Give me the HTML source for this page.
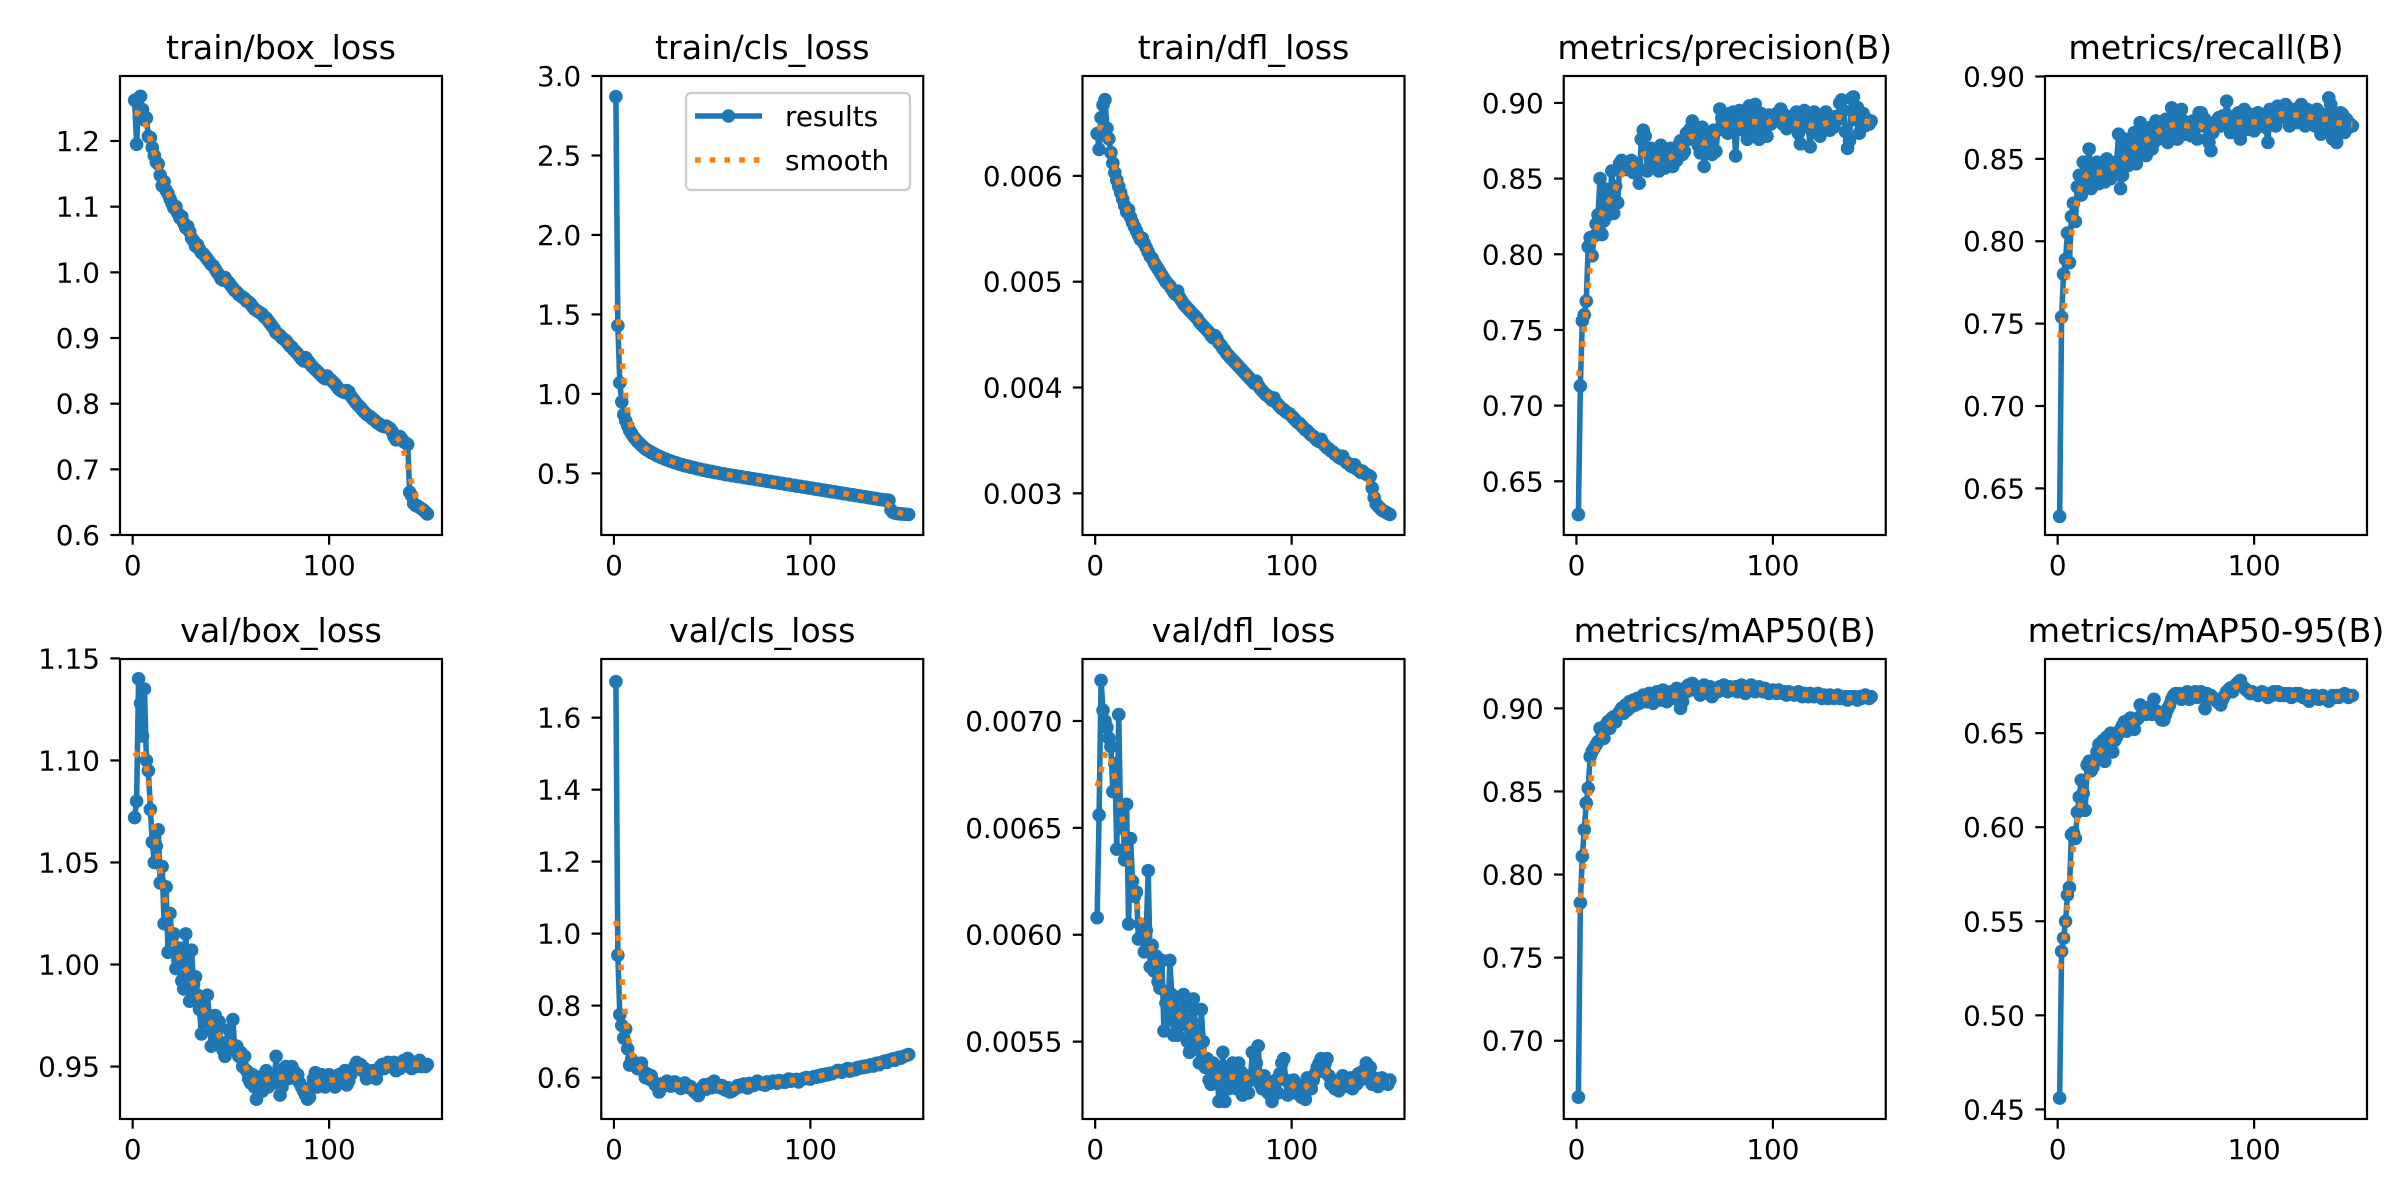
<!DOCTYPE html>
<html><head><meta charset="utf-8"><title>results</title>
<style>html,body{margin:0;padding:0;background:#fff}svg{display:block}text{font-family:"DejaVu Sans","Liberation Sans",sans-serif;fill:#000}</style>
</head><body>
<svg id="fig" width="2400" height="1200" viewBox="0 0 2400 1200" xmlns="http://www.w3.org/2000/svg"></svg>
<script>
const epochs = Array.from({length:150},(_,i)=>i+1);
const trainBoxLoss=[1.262,1.195,1.265,1.268,1.248,1.232,1.235,1.207,1.205,1.19,1.178,1.168,1.165,1.148,1.132,1.138,1.125,1.12,1.112,1.105,1.098,1.1,1.09,1.083,1.085,1.075,1.068,1.07,1.062,1.052,1.048,1.04,1.042,1.035,1.03,1.028,1.024,1.02,1.016,1.012,1.01,1.005,1.0,0.996,0.99,0.988,0.992,0.987,0.984,0.98,0.976,0.972,0.97,0.966,0.964,0.962,0.96,0.956,0.955,0.952,0.948,0.944,0.942,0.94,0.938,0.936,0.932,0.93,0.926,0.922,0.918,0.914,0.908,0.906,0.904,0.9,0.898,0.896,0.892,0.888,0.886,0.882,0.879,0.876,0.872,0.868,0.865,0.87,0.866,0.862,0.858,0.855,0.852,0.849,0.846,0.843,0.84,0.838,0.842,0.838,0.836,0.833,0.83,0.826,0.822,0.82,0.818,0.817,0.82,0.818,0.812,0.808,0.804,0.8,0.797,0.794,0.79,0.787,0.784,0.782,0.78,0.777,0.775,0.772,0.77,0.768,0.766,0.765,0.766,0.764,0.762,0.758,0.75,0.745,0.748,0.75,0.746,0.742,0.74,0.738,0.665,0.66,0.648,0.645,0.644,0.642,0.64,0.638,0.635,0.632];
const trainClsLoss=[2.87,1.43,1.07,0.95,0.87,0.83,0.8,0.77,0.75,0.73,0.715,0.7,0.69,0.676,0.665,0.654,0.646,0.64,0.631,0.626,0.618,0.611,0.607,0.6,0.596,0.59,0.586,0.58,0.577,0.571,0.568,0.565,0.559,0.556,0.553,0.548,0.546,0.544,0.539,0.537,0.535,0.53,0.528,0.526,0.521,0.52,0.518,0.513,0.512,0.511,0.506,0.505,0.503,0.499,0.498,0.496,0.492,0.491,0.49,0.486,0.485,0.484,0.48,0.479,0.478,0.474,0.473,0.472,0.468,0.467,0.466,0.462,0.461,0.46,0.456,0.455,0.454,0.45,0.449,0.448,0.444,0.443,0.442,0.438,0.437,0.436,0.432,0.431,0.43,0.426,0.425,0.424,0.42,0.419,0.418,0.414,0.413,0.412,0.408,0.407,0.406,0.402,0.401,0.4,0.396,0.395,0.394,0.39,0.389,0.388,0.384,0.383,0.382,0.378,0.377,0.376,0.372,0.371,0.37,0.366,0.365,0.364,0.36,0.359,0.358,0.354,0.353,0.352,0.348,0.347,0.346,0.342,0.341,0.34,0.336,0.335,0.334,0.331,0.332,0.33,0.27,0.255,0.25,0.248,0.246,0.245,0.244,0.243,0.242,0.241];
const trainDflLoss=[0.0064,0.00625,0.00655,0.00667,0.00672,0.00645,0.00635,0.00622,0.00612,0.00603,0.00596,0.0059,0.00584,0.00578,0.00572,0.00566,0.00568,0.00561,0.00556,0.00552,0.00548,0.00544,0.0054,0.00541,0.00536,0.00532,0.00528,0.00524,0.00522,0.00518,0.00515,0.00512,0.00509,0.00506,0.00503,0.005,0.00498,0.00496,0.00493,0.0049,0.00488,0.00491,0.00485,0.00482,0.00479,0.00477,0.00475,0.00473,0.00471,0.00469,0.00467,0.00465,0.00462,0.0046,0.00458,0.00456,0.00454,0.00452,0.00449,0.00447,0.00449,0.00446,0.00442,0.0044,0.00437,0.00435,0.00432,0.0043,0.00428,0.00426,0.00424,0.00422,0.0042,0.00418,0.00416,0.00414,0.00412,0.0041,0.00408,0.00406,0.00404,0.00406,0.00402,0.00399,0.00397,0.00395,0.00393,0.00392,0.0039,0.00388,0.0039,0.00386,0.00384,0.00382,0.0038,0.00379,0.00377,0.00376,0.00375,0.00373,0.00371,0.00369,0.00367,0.00366,0.00364,0.00362,0.0036,0.00359,0.00357,0.00355,0.00354,0.00352,0.0035,0.00349,0.00351,0.00347,0.00345,0.00343,0.00342,0.0034,0.00339,0.00337,0.00336,0.00334,0.00333,0.00335,0.00331,0.00329,0.00328,0.00326,0.00325,0.00327,0.00323,0.00322,0.0032,0.00321,0.00319,0.00318,0.00317,0.00316,0.00305,0.00296,0.0029,0.00288,0.00286,0.00284,0.00283,0.00282,0.00281,0.0028];
const precisionB=[0.628,0.713,0.756,0.76,0.769,0.805,0.811,0.799,0.812,0.82,0.826,0.85,0.813,0.822,0.843,0.826,0.832,0.855,0.827,0.845,0.834,0.86,0.862,0.858,0.856,0.857,0.858,0.862,0.854,0.86,0.858,0.847,0.876,0.882,0.878,0.855,0.866,0.87,0.86,0.858,0.868,0.855,0.872,0.862,0.857,0.86,0.866,0.87,0.858,0.864,0.862,0.872,0.875,0.866,0.868,0.88,0.876,0.883,0.888,0.879,0.882,0.872,0.867,0.884,0.858,0.87,0.88,0.878,0.866,0.882,0.868,0.882,0.896,0.89,0.888,0.884,0.88,0.893,0.886,0.894,0.865,0.884,0.895,0.888,0.882,0.892,0.876,0.898,0.88,0.89,0.899,0.885,0.876,0.893,0.89,0.884,0.878,0.892,0.886,0.888,0.888,0.893,0.894,0.896,0.886,0.892,0.883,0.886,0.89,0.885,0.888,0.894,0.88,0.873,0.892,0.895,0.886,0.884,0.871,0.889,0.894,0.886,0.88,0.878,0.884,0.89,0.894,0.887,0.882,0.889,0.884,0.891,0.889,0.9,0.902,0.895,0.881,0.87,0.875,0.903,0.904,0.889,0.897,0.88,0.885,0.893,0.885,0.889,0.886,0.888];
const recallB=[0.633,0.754,0.78,0.789,0.805,0.787,0.815,0.823,0.812,0.833,0.84,0.828,0.848,0.838,0.845,0.856,0.832,0.842,0.838,0.848,0.835,0.846,0.84,0.836,0.85,0.844,0.838,0.845,0.842,0.848,0.865,0.832,0.84,0.862,0.85,0.846,0.855,0.86,0.866,0.847,0.855,0.872,0.858,0.862,0.852,0.866,0.869,0.856,0.86,0.873,0.862,0.87,0.868,0.872,0.874,0.86,0.866,0.881,0.87,0.875,0.862,0.87,0.88,0.873,0.865,0.869,0.872,0.864,0.873,0.87,0.862,0.878,0.878,0.87,0.874,0.862,0.86,0.855,0.866,0.87,0.873,0.875,0.87,0.876,0.872,0.885,0.876,0.866,0.868,0.872,0.876,0.878,0.862,0.87,0.88,0.874,0.868,0.877,0.871,0.867,0.874,0.878,0.87,0.872,0.875,0.869,0.86,0.88,0.878,0.875,0.87,0.882,0.876,0.88,0.878,0.883,0.874,0.87,0.878,0.88,0.876,0.872,0.878,0.883,0.876,0.87,0.88,0.873,0.878,0.876,0.87,0.88,0.874,0.865,0.877,0.873,0.868,0.887,0.883,0.862,0.875,0.86,0.872,0.878,0.877,0.866,0.874,0.869,0.871,0.87];
const valBoxLoss=[1.072,1.08,1.14,1.128,1.112,1.135,1.1,1.095,1.076,1.06,1.05,1.058,1.066,1.04,1.048,1.02,1.038,1.006,1.025,1.013,1.015,0.998,1.002,1.008,0.992,0.988,1.015,0.996,0.982,1.007,0.99,0.994,0.985,0.978,0.966,0.984,0.972,0.985,0.975,0.96,0.968,0.975,0.963,0.972,0.96,0.958,0.955,0.962,0.968,0.96,0.973,0.958,0.96,0.955,0.957,0.95,0.955,0.948,0.944,0.942,0.946,0.94,0.934,0.942,0.945,0.938,0.946,0.948,0.94,0.944,0.946,0.942,0.955,0.944,0.936,0.94,0.948,0.95,0.944,0.946,0.95,0.948,0.944,0.946,0.942,0.94,0.938,0.936,0.934,0.935,0.94,0.944,0.947,0.94,0.942,0.946,0.944,0.94,0.943,0.946,0.942,0.945,0.94,0.944,0.946,0.942,0.945,0.948,0.941,0.943,0.946,0.948,0.95,0.952,0.95,0.951,0.948,0.949,0.944,0.945,0.947,0.948,0.946,0.944,0.948,0.95,0.951,0.949,0.95,0.952,0.951,0.95,0.952,0.948,0.95,0.949,0.951,0.953,0.952,0.954,0.951,0.949,0.952,0.95,0.951,0.953,0.95,0.951,0.95,0.951];
const valClsLoss=[1.7,0.94,0.775,0.745,0.71,0.735,0.68,0.635,0.65,0.642,0.64,0.625,0.628,0.64,0.618,0.6,0.61,0.596,0.605,0.59,0.58,0.575,0.56,0.575,0.584,0.578,0.59,0.582,0.576,0.58,0.588,0.584,0.575,0.57,0.578,0.585,0.58,0.572,0.575,0.568,0.56,0.556,0.55,0.565,0.573,0.58,0.568,0.575,0.583,0.572,0.59,0.58,0.576,0.572,0.578,0.568,0.565,0.572,0.56,0.562,0.566,0.572,0.578,0.574,0.58,0.582,0.576,0.571,0.584,0.58,0.578,0.582,0.59,0.586,0.582,0.585,0.579,0.588,0.584,0.586,0.59,0.586,0.584,0.592,0.588,0.59,0.587,0.592,0.596,0.59,0.594,0.592,0.595,0.588,0.594,0.596,0.598,0.6,0.597,0.596,0.6,0.603,0.601,0.605,0.603,0.608,0.606,0.61,0.608,0.612,0.611,0.614,0.616,0.62,0.618,0.615,0.62,0.622,0.625,0.618,0.62,0.624,0.622,0.628,0.626,0.63,0.628,0.632,0.63,0.634,0.636,0.632,0.638,0.64,0.636,0.642,0.644,0.646,0.642,0.648,0.65,0.652,0.648,0.654,0.656,0.654,0.658,0.66,0.662,0.664];
const valDflLoss=[0.00608,0.00656,0.00719,0.00705,0.007,0.00697,0.00692,0.00688,0.00667,0.0068,0.0064,0.00703,0.0065,0.0066,0.00635,0.00661,0.00605,0.00645,0.00625,0.00618,0.0062,0.00598,0.00605,0.006,0.00592,0.00602,0.0063,0.00585,0.00595,0.00583,0.0059,0.00578,0.00575,0.00588,0.00555,0.00568,0.0056,0.00588,0.00572,0.00553,0.0057,0.00553,0.00562,0.00558,0.00572,0.00566,0.0055,0.00545,0.0056,0.0057,0.00555,0.00548,0.0054,0.00565,0.0055,0.00538,0.00542,0.00532,0.0053,0.0054,0.00538,0.00535,0.00522,0.0053,0.00545,0.00522,0.00538,0.00528,0.00535,0.0054,0.00532,0.00528,0.0054,0.00536,0.00525,0.0053,0.00534,0.00526,0.00532,0.00545,0.00535,0.0054,0.00548,0.0053,0.00528,0.00534,0.00532,0.00526,0.0053,0.00522,0.00528,0.00532,0.00526,0.00535,0.0054,0.00542,0.00532,0.00525,0.0053,0.00528,0.00532,0.00526,0.0053,0.00528,0.00524,0.00528,0.00523,0.00533,0.0053,0.00528,0.00532,0.00535,0.00538,0.0054,0.00542,0.00536,0.0054,0.00542,0.00534,0.0053,0.00532,0.00528,0.0053,0.00527,0.00532,0.00534,0.0053,0.00532,0.00529,0.00533,0.00528,0.00531,0.0053,0.00535,0.00532,0.00536,0.00534,0.0054,0.00537,0.00538,0.0053,0.00533,0.00532,0.00529,0.00531,0.00533,0.00532,0.00531,0.0053,0.00532];
const map50B=[0.666,0.783,0.811,0.827,0.843,0.852,0.871,0.874,0.876,0.878,0.88,0.888,0.886,0.882,0.89,0.892,0.888,0.894,0.895,0.892,0.896,0.898,0.9,0.897,0.902,0.899,0.904,0.901,0.905,0.902,0.906,0.903,0.905,0.908,0.906,0.904,0.909,0.907,0.903,0.906,0.91,0.908,0.905,0.911,0.909,0.904,0.908,0.91,0.906,0.909,0.912,0.907,0.9,0.904,0.912,0.91,0.914,0.911,0.915,0.912,0.913,0.91,0.908,0.912,0.914,0.911,0.909,0.913,0.907,0.911,0.912,0.91,0.913,0.911,0.914,0.912,0.91,0.913,0.912,0.911,0.913,0.91,0.912,0.914,0.911,0.909,0.912,0.913,0.914,0.911,0.91,0.912,0.913,0.911,0.91,0.912,0.911,0.909,0.91,0.911,0.91,0.909,0.911,0.91,0.909,0.91,0.908,0.91,0.909,0.909,0.908,0.909,0.91,0.908,0.907,0.909,0.908,0.907,0.909,0.908,0.907,0.908,0.909,0.907,0.906,0.908,0.907,0.906,0.908,0.907,0.906,0.907,0.908,0.906,0.907,0.906,0.907,0.905,0.907,0.906,0.907,0.906,0.905,0.907,0.906,0.907,0.908,0.907,0.906,0.907];
const map5095B=[0.456,0.534,0.541,0.55,0.564,0.568,0.596,0.597,0.594,0.608,0.616,0.625,0.618,0.609,0.633,0.635,0.63,0.632,0.636,0.64,0.644,0.642,0.646,0.635,0.648,0.644,0.65,0.64,0.646,0.648,0.65,0.652,0.654,0.656,0.651,0.655,0.658,0.654,0.652,0.657,0.658,0.665,0.66,0.663,0.66,0.662,0.664,0.66,0.668,0.662,0.66,0.659,0.657,0.657,0.66,0.663,0.665,0.668,0.67,0.671,0.67,0.671,0.668,0.669,0.671,0.672,0.668,0.67,0.671,0.672,0.669,0.671,0.672,0.67,0.663,0.671,0.67,0.67,0.669,0.668,0.667,0.666,0.665,0.668,0.67,0.672,0.673,0.674,0.672,0.675,0.676,0.677,0.678,0.675,0.674,0.673,0.672,0.671,0.672,0.671,0.671,0.67,0.671,0.672,0.671,0.67,0.669,0.671,0.67,0.672,0.671,0.672,0.67,0.671,0.67,0.671,0.67,0.671,0.669,0.67,0.671,0.67,0.671,0.67,0.669,0.67,0.668,0.667,0.669,0.67,0.67,0.669,0.668,0.669,0.67,0.669,0.668,0.667,0.669,0.67,0.669,0.67,0.669,0.67,0.67,0.671,0.67,0.669,0.67,0.67];
const panelTitles=["train/box_loss","train/cls_loss","train/dfl_loss","metrics/precision(B)","metrics/recall(B)","val/box_loss","val/cls_loss","val/dfl_loss","metrics/mAP50(B)","metrics/mAP50-95(B)"];
const panelSeries=[trainBoxLoss,trainClsLoss,trainDflLoss,precisionB,recallB,valBoxLoss,valClsLoss,valDflLoss,map50B,map5095B];
const yTickValues=[[0.6,0.7,0.8,0.9,1.0,1.1,1.2],[0.5,1.0,1.5,2.0,2.5,3.0],[0.003,0.004,0.005,0.006],[0.65,0.70,0.75,0.80,0.85,0.90],[0.65,0.70,0.75,0.80,0.85,0.90],[0.95,1.00,1.05,1.10,1.15],[0.6,0.8,1.0,1.2,1.4,1.6],[0.0055,0.0060,0.0065,0.0070],[0.70,0.75,0.80,0.85,0.90],[0.45,0.50,0.55,0.60,0.65]];
const yTickLabels=[["0.6","0.7","0.8","0.9","1.0","1.1","1.2"],["0.5","1.0","1.5","2.0","2.5","3.0"],["0.003","0.004","0.005","0.006"],["0.65","0.70","0.75","0.80","0.85","0.90"],["0.65","0.70","0.75","0.80","0.85","0.90"],["0.95","1.00","1.05","1.10","1.15"],["0.6","0.8","1.0","1.2","1.4","1.6"],["0.0055","0.0060","0.0065","0.0070"],["0.70","0.75","0.80","0.85","0.90"],["0.45","0.50","0.55","0.60","0.65"]];
const xTickValues=[0,100];
const xTickLabels=["0","100"];

// view limits (layout)
const yLims=[[0.6,1.299],[0.112,3.0],[0.002606,0.006944],[0.6145,0.9178],[0.6217,0.9003],[0.9243,1.1497],[0.485,1.763],[0.005138,0.00729],[0.6529,0.9297],[0.4449,0.6894]];
const XMIN=-6.45, XMAX=157.45;
const ROW_T=[76,659], ROW_B=[535,1119];
const NS="http://www.w3.org/2000/svg";
const svg=document.getElementById('fig');
function mk(tag,attrs,parent){const e=document.createElementNS(NS,tag);for(const k in attrs)e.setAttribute(k,attrs[k]);(parent||svg).appendChild(e);return e;}
function gauss(y,sigma){
  const r=Math.round(4*sigma),w=[];let s=0;
  for(let k=-r;k<=r;k++){const v=Math.exp(-k*k/(2*sigma*sigma));w.push(v);s+=v;}
  const n=y.length,out=[];
  const idx=i=>{while(i<0||i>=n){if(i<0)i=-i-1;if(i>=n)i=2*n-i-1;}return i;};
  for(let i=0;i<n;i++){let a=0;for(let k=-r;k<=r;k++)a+=w[k+r]*y[idx(i+k)];out.push(a/s);}
  return out;
}
const BLUE="#1f77b4",ORANGE="#ff7f0e",LW=5.56;
for(let p=0;p<10;p++){
  const col=p%5,row=Math.floor(p/5);
  const L=120+col*481.25,R=L+322,T=ROW_T[row],B=ROW_B[row];
  const [y0,y1]=yLims[p];
  const sx=v=>L+(v-XMIN)/(XMAX-XMIN)*(R-L);
  const sy=v=>B-(v-y0)/(y1-y0)*(B-T);
  const g=mk('g',{});
  
  
  const t=mk('text',{x:(L+R)/2,y:T-17,'text-anchor':'middle','font-size':'33.3'},g);
  t.textContent=panelTitles[p];
  
  
  const data=panelSeries[p];
  const pts=data.map((v,i)=>sx(epochs[i]).toFixed(2)+','+sy(v).toFixed(2)).join(' ');
  const line=mk('polyline',{points:pts,fill:'none',stroke:BLUE,'stroke-width':LW,'stroke-linejoin':'round','stroke-linecap':'round'},g);
  
  
  data.forEach((v,i)=>{
    const c=mk('circle',{cx:sx(epochs[i]).toFixed(2),cy:sy(v).toFixed(2),r:6.8,fill:BLUE},g);
    
    
  });
  const sm=gauss(data,3);
  const sp=sm.map((v,i)=>sx(epochs[i]).toFixed(2)+','+sy(v).toFixed(2)).join(' ');
  const sl=mk('polyline',{points:sp,fill:'none',stroke:ORANGE,'stroke-width':LW,'stroke-dasharray':'5.56 9.17'},g);
  
  
  const fr=mk('rect',{x:L,y:T,width:R-L,height:B-T,fill:'none',stroke:'#000','stroke-width':2.2},g);
  
  
  yTickValues[p].forEach((v,i)=>{
    const y=sy(v);
    const tk=mk('line',{x1:L,x2:L-9.7,y1:y,y2:y,stroke:'#000','stroke-width':2.2},g);
    
    
    const tl=mk('text',{x:L-20,y:y+10,'text-anchor':'end','font-size':'27.8'},g);
    tl.textContent=yTickLabels[p][i];
    
    
  });
  xTickValues.forEach((v,i)=>{
    const x=sx(v);
    const tk=mk('line',{x1:x,x2:x,y1:B,y2:B+9.7,stroke:'#000','stroke-width':2.2},g);
    
    
    const tl=mk('text',{x:x,y:B+40,'text-anchor':'middle','font-size':'27.8'},g);
    tl.textContent=xTickLabels[i];
    
    
  });
  if(p===1){
    const lg=mk('g',{},g);
    
    
    mk('rect',{x:686,y:93,width:224,height:97,rx:5,fill:'#fff','fill-opacity':0.8,stroke:'#cccccc','stroke-width':2.2},lg);
    mk('line',{x1:695,x2:762,y1:116,y2:116,stroke:BLUE,'stroke-width':LW},lg);
    mk('circle',{cx:728.5,cy:116,r:6.8,fill:BLUE},lg);
    const e1=mk('text',{x:785,y:126,'font-size':'27.8'},lg);e1.textContent='results';
    
    
    mk('line',{x1:695,x2:762,y1:160,y2:160,stroke:ORANGE,'stroke-width':LW,'stroke-dasharray':'5.56 9.17'},lg);
    const e2=mk('text',{x:785,y:170,'font-size':'27.8'},lg);e2.textContent='smooth';
    
    
  }
}
</script>
</body></html>
